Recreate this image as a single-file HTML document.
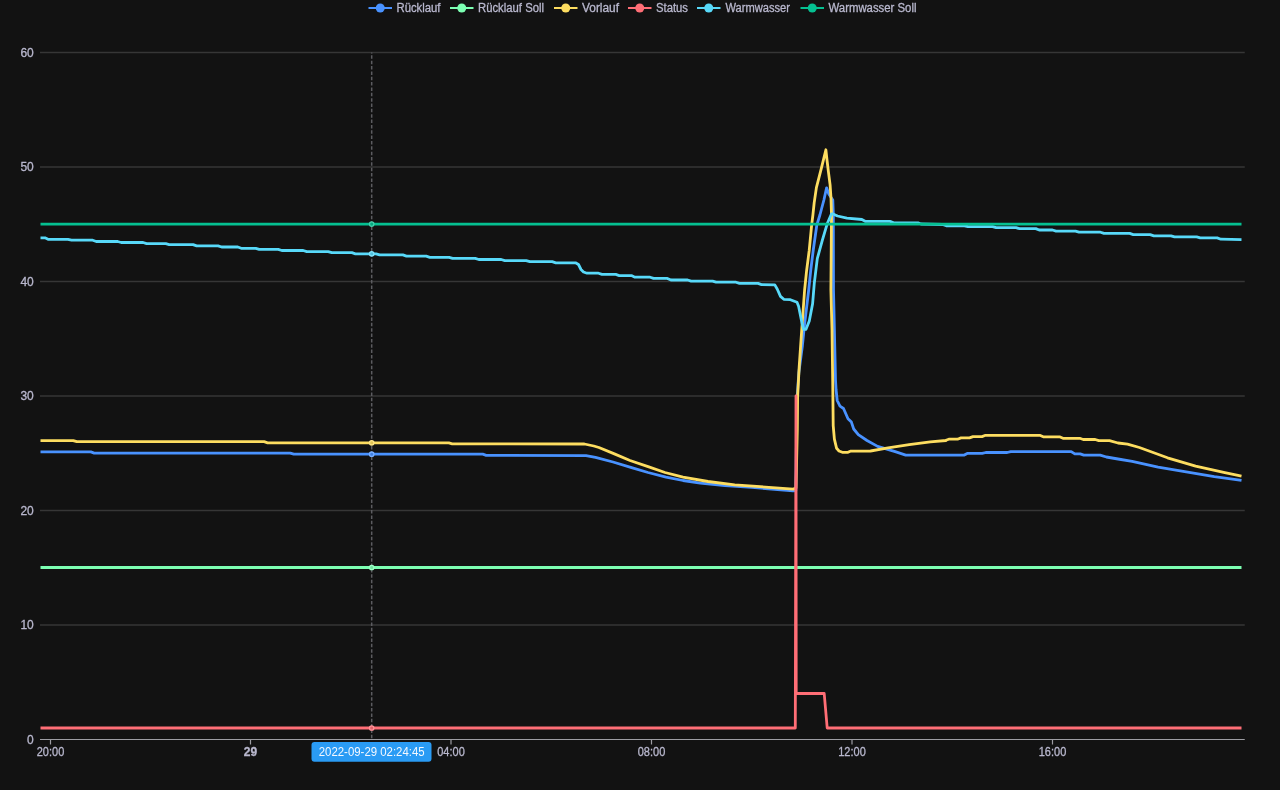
<!DOCTYPE html><html><head><meta charset="utf-8"><style>html,body{margin:0;padding:0;background:#121212;width:1280px;height:790px;overflow:hidden}svg{display:block;will-change:transform}text{font-family:"Liberation Sans",sans-serif;stroke-width:0.3px}</style></head><body>
<svg width="1280" height="790" viewBox="0 0 1280 790">
<rect width="1280" height="790" fill="#121212"/>
<line x1="368.5" y1="8" x2="392.0" y2="8" stroke="#4992ff" stroke-width="2"/>
<circle cx="380.25" cy="8" r="4.5" fill="#4992ff"/>
<text x="396.5" y="12" font-size="12" fill="#B9B8CE" stroke="#B9B8CE" textLength="44" lengthAdjust="spacingAndGlyphs">Rücklauf</text>
<line x1="450" y1="8" x2="473.5" y2="8" stroke="#7cffb2" stroke-width="2"/>
<circle cx="461.75" cy="8" r="4.5" fill="#7cffb2"/>
<text x="478" y="12" font-size="12" fill="#B9B8CE" stroke="#B9B8CE" textLength="66" lengthAdjust="spacingAndGlyphs">Rücklauf Soll</text>
<line x1="554" y1="8" x2="577.5" y2="8" stroke="#fddd60" stroke-width="2"/>
<circle cx="565.75" cy="8" r="4.5" fill="#fddd60"/>
<text x="582" y="12" font-size="12" fill="#B9B8CE" stroke="#B9B8CE" textLength="37" lengthAdjust="spacingAndGlyphs">Vorlauf</text>
<line x1="628" y1="8" x2="651.5" y2="8" stroke="#ff6e76" stroke-width="2"/>
<circle cx="639.75" cy="8" r="4.5" fill="#ff6e76"/>
<text x="656" y="12" font-size="12" fill="#B9B8CE" stroke="#B9B8CE" textLength="32" lengthAdjust="spacingAndGlyphs">Status</text>
<line x1="697" y1="8" x2="720.5" y2="8" stroke="#58d9f9" stroke-width="2"/>
<circle cx="708.75" cy="8" r="4.5" fill="#58d9f9"/>
<text x="725.5" y="12" font-size="12" fill="#B9B8CE" stroke="#B9B8CE" textLength="64.5" lengthAdjust="spacingAndGlyphs">Warmwasser</text>
<line x1="800.5" y1="8" x2="824.0" y2="8" stroke="#05c091" stroke-width="2"/>
<circle cx="812.25" cy="8" r="4.5" fill="#05c091"/>
<text x="828.5" y="12" font-size="12" fill="#B9B8CE" stroke="#B9B8CE" textLength="88" lengthAdjust="spacingAndGlyphs">Warmwasser Soll</text>
<line x1="40" y1="52.5" x2="1244.75" y2="52.5" stroke="#363636" stroke-width="1.3"/>
<line x1="40" y1="167" x2="1244.75" y2="167" stroke="#363636" stroke-width="1.3"/>
<line x1="40" y1="281.5" x2="1244.75" y2="281.5" stroke="#363636" stroke-width="1.3"/>
<line x1="40" y1="396" x2="1244.75" y2="396" stroke="#363636" stroke-width="1.3"/>
<line x1="40" y1="510.5" x2="1244.75" y2="510.5" stroke="#363636" stroke-width="1.3"/>
<line x1="40" y1="625" x2="1244.75" y2="625" stroke="#363636" stroke-width="1.3"/>
<text x="33.8" y="56.5" font-size="12" text-anchor="end" fill="#B9B8CE" stroke="#B9B8CE">60</text>
<text x="33.8" y="171" font-size="12" text-anchor="end" fill="#B9B8CE" stroke="#B9B8CE">50</text>
<text x="33.8" y="285.5" font-size="12" text-anchor="end" fill="#B9B8CE" stroke="#B9B8CE">40</text>
<text x="33.8" y="400" font-size="12" text-anchor="end" fill="#B9B8CE" stroke="#B9B8CE">30</text>
<text x="33.8" y="514.5" font-size="12" text-anchor="end" fill="#B9B8CE" stroke="#B9B8CE">20</text>
<text x="33.8" y="629" font-size="12" text-anchor="end" fill="#B9B8CE" stroke="#B9B8CE">10</text>
<text x="33.8" y="743.5" font-size="12" text-anchor="end" fill="#B9B8CE" stroke="#B9B8CE">0</text>
<line x1="40" y1="739.5" x2="1244.75" y2="739.5" stroke="#9d9da3" stroke-width="1.2"/>
<line x1="50.5" y1="739.5" x2="50.5" y2="744.5" stroke="#9d9da3" stroke-width="1.2"/>
<text x="50.5" y="756" font-size="12" text-anchor="middle" fill="#B9B8CE" stroke="#B9B8CE" textLength="27.5" lengthAdjust="spacingAndGlyphs">20:00</text>
<line x1="250.5" y1="739.5" x2="250.5" y2="744.5" stroke="#9d9da3" stroke-width="1.2"/>
<text x="250.5" y="756" font-size="12" text-anchor="middle" fill="#B9B8CE" stroke="#B9B8CE" font-weight="bold">29</text>
<line x1="451" y1="739.5" x2="451" y2="744.5" stroke="#9d9da3" stroke-width="1.2"/>
<text x="451" y="756" font-size="12" text-anchor="middle" fill="#B9B8CE" stroke="#B9B8CE" textLength="27.5" lengthAdjust="spacingAndGlyphs">04:00</text>
<line x1="651.5" y1="739.5" x2="651.5" y2="744.5" stroke="#9d9da3" stroke-width="1.2"/>
<text x="651.5" y="756" font-size="12" text-anchor="middle" fill="#B9B8CE" stroke="#B9B8CE" textLength="27.5" lengthAdjust="spacingAndGlyphs">08:00</text>
<line x1="852" y1="739.5" x2="852" y2="744.5" stroke="#9d9da3" stroke-width="1.2"/>
<text x="852" y="756" font-size="12" text-anchor="middle" fill="#B9B8CE" stroke="#B9B8CE" textLength="27.5" lengthAdjust="spacingAndGlyphs">12:00</text>
<line x1="1052.5" y1="739.5" x2="1052.5" y2="744.5" stroke="#9d9da3" stroke-width="1.2"/>
<text x="1052.5" y="756" font-size="12" text-anchor="middle" fill="#B9B8CE" stroke="#B9B8CE" textLength="27.5" lengthAdjust="spacingAndGlyphs">16:00</text>
<polyline points="40.5,451.9 90.8,451.9 94.2,453.1 290.2,453.1 293.8,454.2 482.8,454.2 486.2,455.3 586.0,455.6 595.5,457.3 613.0,462.0 631.6,467.7 648.0,472.5 666.0,477.1 683.0,480.5 700.3,483.1 725.0,485.5 751.9,487.4 793.1,490.9 795.8,490.5 797.0,400.0 798.8,373.0 802.4,345.7 804.5,324.8 808.7,290.0 810.7,270.7 813.2,250.5 816.8,225.2 819.9,215.0 823.9,200.0 826.6,187.8 828.8,194.0 832.8,200.0 833.3,214.0 833.5,290.0 835.5,380.0 836.1,390.0 837.2,400.5 840.0,406.2 843.5,408.5 848.0,418.7 851.4,422.1 853.7,429.0 858.3,434.7 867.0,440.5 877.6,446.4 895.2,451.7 905.7,455.2 963.8,455.2 967.2,453.4 982.2,453.4 985.8,452.5 1007.2,452.5 1010.8,451.6 1071.2,451.6 1074.8,453.9 1080.2,453.9 1083.8,455.1 1100.2,455.1 1106.4,457.0 1118.0,459.0 1132.2,461.3 1158.1,467.2 1186.2,471.9 1214.3,476.6 1241.5,480.4" fill="none" stroke="#4992ff" stroke-width="2.8" stroke-linejoin="round" stroke-linecap="butt"/>
<polyline points="40.5,567.5 1241.5,567.5" fill="none" stroke="#7cffb2" stroke-width="2.8" stroke-linejoin="round" stroke-linecap="butt"/>
<polyline points="40.5,440.6 73.2,440.6 76.8,441.7 264.1,441.7 267.6,442.8 448.8,442.8 452.2,443.8 584.4,444.0 593.8,446.0 598.9,447.5 614.4,453.9 630.0,460.5 648.8,466.8 665.0,472.5 683.0,477.1 708.0,481.5 734.7,484.8 793.1,489.1 796.0,488.0 797.3,430.0 797.6,397.0 799.2,366.6 801.7,330.4 804.6,290.0 806.6,270.7 809.2,250.5 811.7,224.7 812.9,215.0 814.2,202.6 816.4,187.6 821.2,168.8 825.9,149.8 827.0,160.0 828.4,171.6 830.1,184.9 831.0,198.2 831.5,215.0 830.9,290.0 832.0,330.0 832.7,380.0 833.2,425.6 834.4,439.2 836.6,448.3 839.0,451.0 842.3,452.3 848.0,452.3 850.3,451.2 866.3,451.2 870.5,451.0 888.1,447.9 909.2,444.7 930.3,441.9 946.0,440.5 945.2,440.5 948.8,439.2 957.5,439.2 961.0,437.9 969.5,437.9 973.0,436.6 982.0,436.6 985.5,435.3 1039.8,435.3 1043.2,436.8 1059.5,436.8 1063.0,438.3 1079.8,438.3 1083.2,439.5 1095.2,439.5 1098.8,440.6 1109.5,440.6 1118.0,443.0 1127.5,444.1 1139.4,447.5 1167.5,457.8 1195.6,466.2 1223.7,472.3 1241.5,476.1" fill="none" stroke="#fddd60" stroke-width="2.8" stroke-linejoin="round" stroke-linecap="butt"/>
<polyline points="40.5,728.0 795.3,728.0 796.0,396.0 796.2,693.5 824.2,693.5 827.2,728.0 1241.5,728.0" fill="none" stroke="#ff6e76" stroke-width="2.8" stroke-linejoin="round" stroke-linecap="butt"/>
<polyline points="40.5,237.8 45.0,237.8 48.5,239.4 68.0,239.4 71.5,240.2 92.7,240.2 96.2,241.5 117.7,241.5 121.2,242.5 143.1,242.5 146.6,243.6 165.8,243.6 169.2,244.6 193.1,244.6 196.6,245.9 218.1,245.9 221.6,247.0 237.8,247.0 241.2,248.3 255.8,248.3 259.2,249.4 278.2,249.4 281.8,250.5 303.2,250.5 306.8,251.6 328.2,251.6 331.8,252.7 351.9,252.7 355.4,253.8 376.1,253.8 379.6,254.9 402.9,254.9 406.4,256.1 426.2,256.1 429.8,257.3 449.1,257.3 452.6,258.4 475.2,258.4 478.8,259.5 501.2,259.5 504.8,260.6 526.2,260.6 529.8,261.7 552.2,261.7 555.8,262.8 575.5,262.8 578.5,264.5 581.0,269.5 583.5,272.0 587.0,273.2 598.5,273.2 602.0,274.4 615.8,274.4 619.2,275.6 631.4,275.6 634.9,277.2 650.1,277.2 653.6,278.4 667.4,278.4 670.9,280.0 687.6,280.0 691.1,281.1 712.6,281.1 716.1,282.2 736.0,282.2 739.5,283.4 758.0,283.4 761.5,284.6 774.8,284.9 777.2,289.0 780.5,296.4 783.8,299.3 790.4,299.7 797.0,302.2 798.6,306.3 801.9,322.7 803.6,329.3 806.0,329.3 809.3,321.1 812.6,303.8 814.3,283.2 815.2,275.8 817.3,258.6 822.3,240.4 827.4,223.2 831.4,214.0 833.0,214.0 837.5,216.0 846.9,218.1 861.9,219.5 865.6,221.4 890.0,221.4 893.7,222.8 918.0,222.8 921.0,224.0 942.5,224.5 942.8,224.5 946.2,225.8 964.5,225.8 968.0,226.7 992.6,226.7 996.1,227.7 1016.0,227.7 1019.5,228.6 1035.8,228.6 1039.2,230.0 1052.5,230.0 1056.0,231.1 1075.5,231.1 1079.0,232.2 1100.5,232.2 1104.0,233.4 1129.7,233.4 1133.2,234.6 1150.2,234.6 1153.8,235.8 1171.0,235.8 1174.5,236.9 1196.7,236.9 1200.2,237.9 1217.2,237.9 1220.8,239.2 1241.5,239.6" fill="none" stroke="#58d9f9" stroke-width="2.8" stroke-linejoin="round" stroke-linecap="butt"/>
<polyline points="40.5,224.1 1241.5,224.1" fill="none" stroke="#05c091" stroke-width="2.8" stroke-linejoin="round" stroke-linecap="butt"/>
<line x1="371.7" y1="52.5" x2="371.7" y2="739.5" stroke="#5c5c60" stroke-width="1.5" stroke-dasharray="3.5 1.85" stroke-dashoffset="2.5"/>
<circle cx="371.7" cy="454.2" r="2.2" fill="#4282e2" stroke="#76adff" stroke-width="1.3"/>
<circle cx="371.7" cy="567.5" r="2.2" fill="#6fe29e" stroke="#9cffc5" stroke-width="1.3"/>
<circle cx="371.7" cy="442.8" r="2.2" fill="#e0c456" stroke="#fde587" stroke-width="1.3"/>
<circle cx="371.7" cy="728.0" r="2.2" fill="#e2626a" stroke="#ff9298" stroke-width="1.3"/>
<circle cx="371.7" cy="253.8" r="2.2" fill="#4fc1dd" stroke="#81e2fa" stroke-width="1.3"/>
<circle cx="371.7" cy="224.1" r="2.2" fill="#06ab81" stroke="#43cfac" stroke-width="1.3"/>
<rect x="311.5" y="742" width="120" height="19.7" rx="3" fill="#2a9bf4"/>
<text x="371.7" y="756" font-size="12" text-anchor="middle" fill="#f4f8ff" textLength="106" lengthAdjust="spacingAndGlyphs">2022-09-29 02:24:45</text>
</svg></body></html>
